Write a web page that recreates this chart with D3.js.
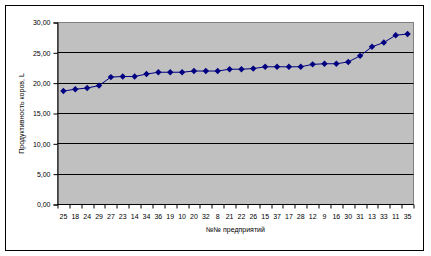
<!DOCTYPE html>
<html>
<head>
<meta charset="utf-8">
<script src="https://cdn.jsdelivr.net/npm/d3@7"></script>
<style>
  body { margin: 0; background: #fff; }
  svg { display: block; font-family: "Liberation Sans", Arial, sans-serif; }
</style>
</head>
<body>
<div id="chart"></div>
<script>
// enterprise numbers along the x axis, in order
const enterprises = ["25","18","24","29","27","23","14","34","36","19","10","20","32","8","21",
                     "22","26","15","37","17","28","12","9","16","30","31","13","33","11","35"];
// productivity of cows, L
const productivity = [18.7, 19.0, 19.2, 19.6, 21.0, 21.1, 21.1, 21.5, 21.8, 21.8, 21.8, 22.0, 22.0, 22.0, 22.3,
                      22.3, 22.4, 22.7, 22.7, 22.7, 22.7, 23.1, 23.2, 23.2, 23.5, 24.5, 26.0, 26.7, 27.9, 28.1];
const yTicks = [0, 5, 10, 15, 20, 25, 30];
const yTitle = "Продуктивность коров, L";
const xTitle = "№№ предприятий";

const width = 431, height = 256;
const margin = {top: 22.5, right: 17.5, bottom: 51.5, left: 57.5};
const innerW = width - margin.left - margin.right;
const innerH = height - margin.top - margin.bottom;

const svg = d3.select("#chart").append("svg")
    .attr("width", width)
    .attr("height", height);

// outer chart frame
svg.append("rect")
    .attr("x", 5.5).attr("y", 5.5)
    .attr("width", 418).attr("height", 245)
    .attr("fill", "#fff")
    .attr("stroke", "#000");

const x = d3.scaleBand().domain(enterprises).range([0, innerW]);
const y = d3.scaleLinear().domain([0, 30]).range([innerH, 0]);

const g = svg.append("g").attr("transform", `translate(${margin.left},${margin.top})`);

g.append("rect")
    .attr("width", innerW).attr("height", innerH)
    .attr("fill", "#c0c0c0")
    .attr("stroke", "#808080");

g.append("g")
    .selectAll("line")
    .data(yTicks.filter(d => d > 0 && d < 30))
    .enter().append("line")
      .attr("x1", 0).attr("x2", innerW)
      .attr("y1", d => Math.round(y(d)) + 0.5 - 0.5)
      .attr("y2", d => Math.round(y(d)) + 0.5 - 0.5)
      .attr("stroke", "#000");

// y axis
const yAxis = g.append("g")
    .call(d3.axisLeft(y).tickValues(yTicks).tickSize(4).tickPadding(3)
      .tickFormat(d => d3.format(".2f")(d).replace(".", ",")));
yAxis.select(".domain").attr("stroke", "#000");
yAxis.selectAll("text").style("font-size", "7px").attr("fill", "#000");

// x axis, ticks between categories
const xAxis = g.append("g").attr("transform", `translate(0,${innerH})`);
xAxis.append("line").attr("x1", 0).attr("x2", innerW).attr("stroke", "#000");
xAxis.selectAll("line.tick")
    .data(d3.range(enterprises.length + 1))
    .enter().append("line")
      .attr("class", "tick")
      .attr("x1", i => Math.round(i * x.step()) + 0.5)
      .attr("x2", i => Math.round(i * x.step()) + 0.5)
      .attr("y1", 0).attr("y2", 4)
      .attr("stroke", "#000");
xAxis.selectAll("text")
    .data(enterprises)
    .enter().append("text")
      .attr("x", d => x(d) + x.bandwidth() / 2)
      .attr("y", 14)
      .attr("text-anchor", "middle")
      .style("font-size", "7px")
      .text(d => d);

const pts = enterprises.map((e, i) => [x(e) + x.bandwidth() / 2, y(productivity[i])]);

g.append("path")
    .attr("d", d3.line()(pts))
    .attr("fill", "none")
    .attr("stroke", "#000080")
    .attr("stroke-width", 1);

g.append("g")
    .selectAll("path")
    .data(pts)
    .enter().append("path")
      .attr("transform", d => `translate(${d[0]},${d[1]})`)
      .attr("d", d3.symbol(d3.symbolDiamond2, 26)())
      .attr("fill", "#000080");

svg.append("text")
    .attr("transform", `translate(24,${margin.top + innerH / 2}) rotate(-90)`)
    .attr("text-anchor", "middle")
    .style("font-size", "7px")
    .text(yTitle);

svg.append("text")
    .attr("x", margin.left + innerW / 2)
    .attr("y", 232)
    .attr("text-anchor", "middle")
    .style("font-size", "7px")
    .text(xTitle);
</script>
</body>
</html>
